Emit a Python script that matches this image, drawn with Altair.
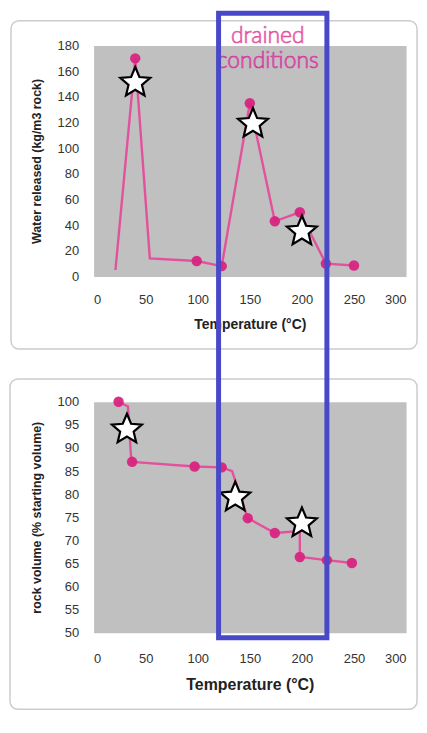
import altair as alt
import pandas as pd

# ---- top panel: water released (kg/m3 rock) vs temperature ----
water_line_t = [21, 40, 54, 99, 123, 150, 174, 198, 223, 250]
water_line_v = [5, 170, 14, 12, 8, 135, 43, 50, 10, 8.5]
water_dot_t = [40, 99, 123, 150, 174, 198, 223, 250]
water_dot_v = [170, 12, 8, 135, 43, 50, 10, 8.5]
water_star_t = [40, 153, 200]
water_star_v = [151, 119, 35]

# ---- bottom panel: rock volume (% starting volume) vs temperature ----
vol_line_t = [24, 33, 36, 37, 97, 123, 133, 148, 174, 198, 198, 224, 248]
vol_line_v = [100, 99, 88, 87, 86, 85.8, 85, 74.8, 71.6, 72, 66.4, 65.7, 65.1]
vol_dot_t = [24, 37, 97, 123, 148, 174, 198, 224, 248]
vol_dot_v = [100, 87, 86, 85.8, 74.8, 71.6, 66.4, 65.7, 65.1]
vol_star_t = [32, 136, 200]
vol_star_v = [94, 79.3, 73.7]

# drained-conditions temperature window
drained_from = [120]
drained_to = [224]

x_ticks = [0, 50, 100, 150, 200, 250, 300]
water_ticks = [0, 20, 40, 60, 80, 100, 120, 140, 160, 180]
vol_ticks = [50, 55, 60, 65, 70, 75, 80, 85, 90, 95, 100]

LINE = "#e2529c"
DOT = "#d8247f"
BLUE = "#4848c8"
STAR = ("M0,-1 L0.265,-0.364 L0.951,-0.309 L0.428,0.139 L0.588,0.809 "
        "L0,0.45 L-0.588,0.809 L-0.428,0.139 L-0.951,-0.309 L-0.265,-0.364 Z")

one = pd.DataFrame({"a": [0]})


def panel(lt, lv, dt, dv, st, sv, domain, ticks, ytitle, ytitle_size,
          xlab_pad, xtitle_y, xtitle_size, frame):
    xs = alt.Scale(domain=[0, 300], nice=False)
    ys = alt.Scale(domain=domain, nice=False)
    xax = alt.Axis(values=x_ticks, title="Temperature (°C)", labelPadding=xlab_pad,
                   labelOverlap=False,
                   titleY=xtitle_y, titleBaseline="middle", titleFontSize=xtitle_size)
    yax = alt.Axis(values=ticks, title=ytitle, labelPadding=15, labelOverlap=False,
                   titleX=-57, titleY=116, titleBaseline="middle", titleAlign="center",
                   titleFontSize=ytitle_size)
    line_df = pd.DataFrame({"t": lt, "v": lv, "i": list(range(len(lt)))})
    dot_df = pd.DataFrame({"t": dt, "v": dv})
    star_df = pd.DataFrame({"t": st, "v": sv})

    fr = alt.Chart(one).mark_rect(fillOpacity=0, stroke="#cccccc", strokeWidth=1.5,
                                  cornerRadius=8, clip=False).encode(
        x=alt.value(frame[0]), x2=alt.value(frame[1]),
        y=alt.value(frame[2]), y2=alt.value(frame[3]))
    ln = alt.Chart(line_df).mark_line(color=LINE, strokeWidth=2.4).encode(
        x=alt.X("t:Q", scale=xs, axis=xax),
        y=alt.Y("v:Q", scale=ys, axis=yax),
        order="i:O")
    dots = alt.Chart(dot_df).mark_point(filled=True, color=DOT, size=110, opacity=0.95).encode(
        x=alt.X("t:Q", scale=xs, axis=xax), y=alt.Y("v:Q", scale=ys, axis=yax))
    stars = alt.Chart(star_df).mark_point(shape=STAR, filled=True, fill="white",
                                          stroke="black", strokeWidth=2.2, size=1000,
                                          opacity=1).encode(
        x=alt.X("t:Q", scale=xs, axis=xax), y=alt.Y("v:Q", scale=ys, axis=yax))
    return fr, ln, dots, stars, xs, xax


fr1, ln1, d1, s1, xs1, xax1 = panel(
    water_line_t, water_line_v, water_dot_t, water_dot_v, water_star_t, water_star_v,
    [0, 180], water_ticks, "Water released (kg/m3 rock)", 12.5, 17, 48, 14,
    (-83, 325, -25, 305))

txt1 = alt.Chart(one).mark_text(text="drained", font="Lato", fontWeight=300,
                                fontSize=23, fill="#f4a6d6", stroke="#e0509f",
                                strokeWidth=0.7).encode(
    x=alt.value(175), y=alt.value(-9.5))
txt2 = alt.Chart(one).mark_text(text="conditions", font="Lato", fontWeight=300,
                                fontSize=23, fill="#ec86c8", stroke="#d0359a",
                                strokeWidth=0.7).encode(
    x=alt.value(175), y=alt.value(16))

top = alt.layer(fr1, ln1, d1, s1, txt1, txt2).properties(width=314, height=232)

fr2, ln2, d2, s2, xs2, xax2 = panel(
    vol_line_t, vol_line_v, vol_dot_t, vol_dot_v, vol_star_t, vol_star_v,
    [50, 100], vol_ticks, "rock volume (% starting volume)", 12.5, 20, 52, 16,
    (-84, 325, -23, 309))

box_df = pd.DataFrame({"t1": drained_from, "t2": drained_to})
box = alt.Chart(box_df).mark_rect(fillOpacity=0, stroke=BLUE, strokeWidth=5,
                                  clip=False).encode(
    x=alt.X("t1:Q", scale=xs2, axis=xax2), x2="t2:Q",
    y=alt.value(-390.5), y2=alt.value(237))

bottom = alt.layer(fr2, ln2, d2, s2, box).properties(width=314, height=232)

chart = alt.vconcat(top, bottom, spacing=126, bounds="flush").properties(
    padding=0
).configure_view(
    fill="#c0c0c0", stroke="transparent"
).configure_axis(
    grid=False, ticks=False, domain=False, labelOverlap=False,
    labelFont="Liberation Sans", labelFontSize=13, labelColor="#333333",
    titleFont="Liberation Sans", titleFontWeight="bold", titleColor="#222222"
)

chart.save("out.html", embed_options={"renderer": "svg", "actions": False})
